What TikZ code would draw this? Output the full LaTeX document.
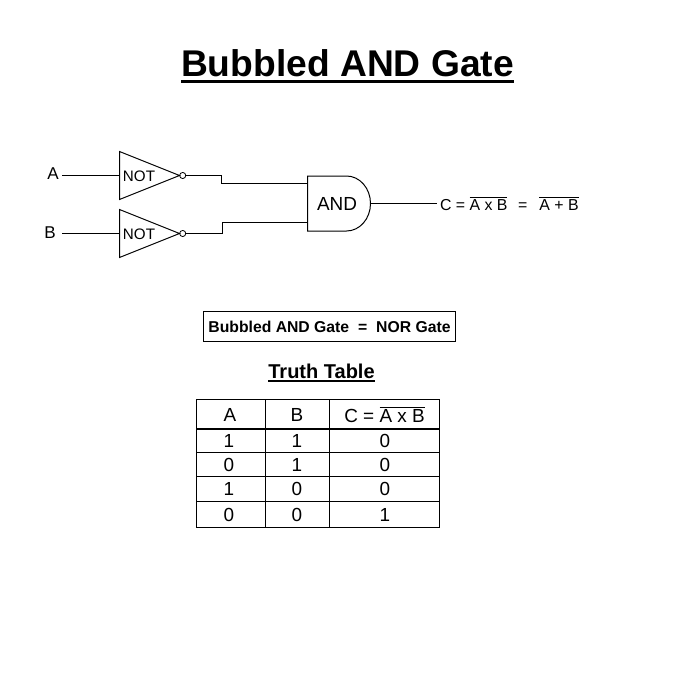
\documentclass[tikz,border=0pt]{standalone}
\usepackage{fontspec}
\setmainfont{Liberation Sans}
\usetikzlibrary{shapes.geometric}
\newcommand{\barred}[3]{\setbox0\hbox{#3}\leavevmode\rlap{\raisebox{#1}{\rule{\wd0}{#2}}}\box0\relax}
\newcommand{\fsize}[1]{\fontsize{#1}{#1}\selectfont}
\tikzset{
  wire/.style={line width=0.75pt},
  notgate/.style={isosceles triangle,isosceles triangle stretches,draw,line width=0.75pt,inner sep=0pt,outer sep=0pt,
    minimum width=36pt,minimum height=45pt,anchor=lower side},
  bubble/.style={circle,draw,line width=0.6pt,inner sep=0pt,outer sep=0pt,minimum size=4.6pt},
  txt/.style={inner sep=0pt,outer sep=0pt,text=black},
  cell/.style={txt,font=\fsize{14.2pt}}
}
\begin{document}
\begin{tikzpicture}[x=0.75pt,y=-0.75pt]
  \useasboundingbox (0,0) rectangle (700,700);
  \node[txt,font=\bfseries\fsize{27.9pt}] (title) at (347.5,66.5) {\barred{-4.6pt}{2.6pt}{Bubbled AND Gate}};
  % inputs and inverters
  \node[txt,font=\fsize{12.8pt}] (labA) at (53,174) {A};
  \node[txt,font=\fsize{12.8pt}] (labB) at (50,233) {B};
  \coordinate (inA) at (62,175.5);
  \coordinate (inB) at (62,233.5);
  \node[notgate] (notA) at (119.5,175.5) {};
  \node[notgate] (notB) at (119.5,233.5) {};
  \node[txt,font=\fsize{11.4pt}] (textA) at (139,176) {NOT};
  \node[txt,font=\fsize{11.4pt}] (textB) at (139,234) {NOT};
  \node[bubble] (bubA) at (182.7,175.5) {};
  \node[bubble] (bubB) at (182.7,233.5) {};
  % and gate
  \node[txt,minimum width=44.25pt,minimum height=41.25pt,anchor=west,font=\fsize{14.2pt}] (andgate) at (307.5,203.5) {AND};
  \draw[wire] (andgate.north west) -- +(39,0) arc[start angle=90,end angle=-90,x radius=18pt,y radius=20.625pt]
    -- (andgate.south west) -- cycle;
  \coordinate (andA) at (307.5,183.5);
  \coordinate (andB) at (307.5,222.5);
  \coordinate (andout) at (370.5,203.5);
  \node[txt,anchor=west,font=\fsize{11.9pt}] (result) at (440,204)
    {C = \barred{9.6pt}{0.6pt}{A x B}\hspace{8pt}=\hspace{9pt}\barred{9.6pt}{0.6pt}{A + B}};
  \coordinate (outC) at (437,203.5);
  \draw[wire] (inA) -- (notA.lower side);
  \draw[wire] (inB) -- (notB.lower side);
  \draw[wire] (bubA.east) -- (221.5,175.5) |- (andA);
  \draw[wire] (bubB.east) -- (222.5,233.5) |- (andB);
  \draw[wire] (andout) -- (outC);
  % note
  \node[draw,wire,txt,font=\bfseries\fsize{11.8pt},minimum width=189pt,minimum height=22pt] (note) at (329.5,326.5)
    {\raisebox{-0.5pt}{Bubbled AND Gate\hspace{3.4pt} = \hspace{3.4pt}NOR Gate}};
  \node[txt,font=\bfseries\fsize{15pt}] (tabletitle) at (321.5,373) {\barred{-2.7pt}{1.5pt}{Truth Table}};
  % table
  \draw[wire] (196.5,399.5) rectangle (439.5,527.5);
  \draw[wire] (265.5,399.5) -- (265.5,527.5);
  \draw[wire] (329.5,399.5) -- (329.5,527.5);
  \draw[line width=1.4pt] (196.5,429) -- (439.5,429);
  \foreach \y in {452.5,476.5,501.5} \draw[wire] (196.5,\y) -- (439.5,\y);
  \node[cell] (headA) at (230,415) {A};
  \node[cell] (headB) at (297,415) {B};
  \node[cell] (headC) at (384.5,415) {C = \barred{11pt}{0.6pt}{A x B}};
  \foreach \a/\b/\c/\y/\n in {1/1/0/441/1,0/1/0/465/2,1/0/0/489/3,0/0/1/515/4}{
    \node[cell] (a\n) at (229,\y) {\a};
    \node[cell] (b\n) at (297,\y) {\b};
    \node[cell] (c\n) at (385,\y) {\c};
  }
\end{tikzpicture}
\end{document}
